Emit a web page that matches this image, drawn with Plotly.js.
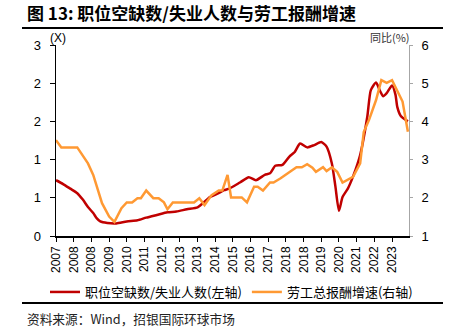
<!DOCTYPE html>
<html>
<head>
<meta charset="utf-8">
<script src="https://cdn.plot.ly/plotly-3.0.1.min.js"></script>
<style>html,body{margin:0;padding:0;background:#fff;}#chart{width:456px;height:330px;}</style>
</head>
<body>
<div id="chart"></div>
<script>
// 职位空缺数/失业人数 (left axis, X)
const ratioDates = ["2007-03","2007-07","2007-11","2008-03","2008-06","2008-09","2008-12","2009-02","2009-04","2009-08","2010-01","2010-07","2011-01","2011-06","2011-12","2012-06","2012-11","2013-05","2013-11","2014-02","2014-06","2014-10","2015-02","2015-05","2015-11","2016-04","2016-08","2017-01","2017-04","2017-07","2017-11","2018-03","2018-06","2018-09","2019-01","2019-05","2019-09","2019-12","2020-03","2020-05","2020-07","2020-09","2020-12","2021-03","2021-07","2021-11","2022-01","2022-04","2022-06","2022-08","2022-10","2023-01","2023-03","2023-04","2023-06","2023-10"];
const ratioValues = [0.73,0.68,0.62,0.56,0.48,0.38,0.30,0.23,0.19,0.17,0.165,0.19,0.205,0.24,0.275,0.31,0.32,0.35,0.375,0.43,0.51,0.55,0.60,0.62,0.70,0.77,0.73,0.80,0.82,0.92,0.93,1.04,1.10,1.21,1.16,1.19,1.23,1.17,0.95,0.65,0.33,0.51,0.62,0.78,1.06,1.56,1.91,2.01,1.91,1.83,1.87,1.97,1.85,1.69,1.57,1.50];

// 劳工总报酬增速 (right axis, %)
const ecDates = ["2007-03","2007-06","2008-03","2008-06","2008-09","2008-12","2009-02","2009-05","2009-09","2009-12","2010-04","2010-07","2010-10","2011-01","2011-03","2011-06","2011-10","2012-01","2012-04","2012-06","2012-09","2013-09","2013-12","2014-03","2014-07","2014-11","2015-01","2015-04","2015-06","2015-12","2016-03","2016-07","2016-09","2016-12","2017-04","2017-06","2017-10","2018-01","2018-04","2018-07","2018-10","2019-01","2019-04","2019-06","2019-10","2019-12","2020-03","2020-06","2020-09","2020-12","2021-03","2021-07","2021-09","2021-12","2022-04","2022-07","2022-10","2023-01","2023-04","2023-07","2023-10"];
const ecValues = [3.51,3.32,3.32,3.12,2.90,2.60,2.29,1.86,1.51,1.37,1.73,1.88,1.88,1.99,1.99,2.19,1.99,1.99,1.88,1.70,1.88,1.88,1.99,1.81,2.07,2.19,2.19,2.60,2.01,2.01,1.88,2.29,2.29,2.19,2.40,2.40,2.51,2.60,2.70,2.80,2.80,2.88,2.79,2.68,2.80,2.70,2.80,2.68,2.40,2.47,2.55,2.90,3.72,4.04,4.56,5.08,5.01,5.08,4.78,4.52,3.73];

// tick labels
const xTickVals = ["2007-03","2008-01","2008-11","2009-09","2010-07","2011-05","2012-03","2013-01","2013-11","2014-09","2015-07","2016-05","2017-03","2018-01","2018-11","2019-09","2020-07","2021-05","2022-03","2023-01"];
const xTickText = ["2007","2008","2008","2009","2010","2011","2012","2013","2013","2014","2015","2016","2017","2018","2018","2019","2020","2021","2022","2023"];
const yLeftTickVals = [0,0.5,1,1.5,2,2.5];
const yLeftTickText = ["0","1","1","2","2","3"];
const yRightTickVals = [1,2,3,4,5,6];

const titleText = "图 13: 职位空缺数/失业人数与劳工报酬增速";
const sourceText = "资料来源：Wind，招银国际环球市场";
const seriesNames = ["职位空缺数/失业人数(左轴)","劳工总报酬增速(右轴)"];

const W = 456, H = 330;
const M = {l:56, r:47, t:45, b:94};
const pw = W - M.l - M.r, ph = H - M.t - M.b;
const px = x => (x - M.l) / pw;
const py = y => (H - M.b - y) / ph;

const FONT = "Liberation Sans, Arial, Noto Sans CJK SC, sans-serif";
const CJK = "Noto Sans CJK SC, Liberation Sans, sans-serif";

const traces = [
  {x: ratioDates, y: ratioValues, name: seriesNames[0], type: "scatter", mode: "lines",
   line: {color: "#C00000", width: 2.5, shape: "spline", smoothing: 0.6}, yaxis: "y"},
  {x: ecDates, y: ecValues, name: seriesNames[1], type: "scatter", mode: "lines",
   line: {color: "#FF9933", width: 2.5}, yaxis: "y2"}
];

const layout = {
  width: W, height: H,
  margin: {l: M.l, r: M.r, t: M.t, b: M.b, pad: 0},
  paper_bgcolor: "#fff", plot_bgcolor: "#fff",
  font: {family: FONT, size: 12, color: "#000"},
  title: {text: "<b>" + titleText + "</b>", font: {family: CJK, size: 17, color: "#000"},
          xref: "container", yref: "container", x: 27/W, xanchor: "left", y: 1 - 14/H, yanchor: "middle"},
  xaxis: {type: "date", range: ["2007-03-01", "2023-10-20"],
          tickmode: "array", tickvals: xTickVals, ticktext: xTickText, tickangle: -90,
          showline: true, linecolor: "#000", linewidth: 1.5, ticks: "outside", ticklen: 4, tickcolor: "#000",
          showgrid: false, zeroline: false, tickfont: {size: 12}},
  yaxis: {range: [0, 2.5], tickmode: "array", tickvals: yLeftTickVals, ticktext: yLeftTickText,
          showline: true, linecolor: "#000", linewidth: 1.5, ticks: "outside", ticklen: 5, tickcolor: "#000",
          showgrid: false, zeroline: false, tickfont: {size: 13}, ticklabelstandoff: 6},
  yaxis2: {range: [1, 6], overlaying: "y", side: "right", tickmode: "array", tickvals: yRightTickVals,
          showline: true, linecolor: "#A6A6A6", linewidth: 1, ticks: "outside", ticklen: 3, tickcolor: "#A6A6A6",
          showgrid: false, zeroline: false, tickfont: {size: 13}, ticklabelstandoff: 6},
  showlegend: true,
  legend: {orientation: "h", x: px(45), xanchor: "left", y: py(292), yanchor: "middle",
           font: {family: CJK, size: 13}, bgcolor: "rgba(0,0,0,0)", traceorder: "normal"},
  shapes: [
    {type: "line", xref: "paper", yref: "paper", x0: px(22), x1: px(443), y0: py(28), y1: py(28), line: {color: "#000", width: 2}},
    {type: "line", xref: "paper", yref: "paper", x0: px(22), x1: px(443), y0: py(303), y1: py(303), line: {color: "#000", width: 2}}
  ],
  annotations: [
    {text: "(X)", xref: "paper", yref: "paper", x: px(48), y: py(38), xanchor: "left", yanchor: "middle", showarrow: false, font: {size: 12}},
    {text: "同比(%)", xref: "paper", yref: "paper", x: px(412), y: py(37), xanchor: "right", yanchor: "middle", showarrow: false, font: {family: CJK, size: 11, color: "#333"}},
    {text: sourceText, xref: "paper", yref: "paper", x: px(25), y: py(318), xanchor: "left", yanchor: "middle", showarrow: false, font: {family: CJK, size: 12.7, color: "#222"}}
  ]
};

Plotly.newPlot("chart", traces, layout, {displayModeBar: false, staticPlot: true});
</script>
</body>
</html>
